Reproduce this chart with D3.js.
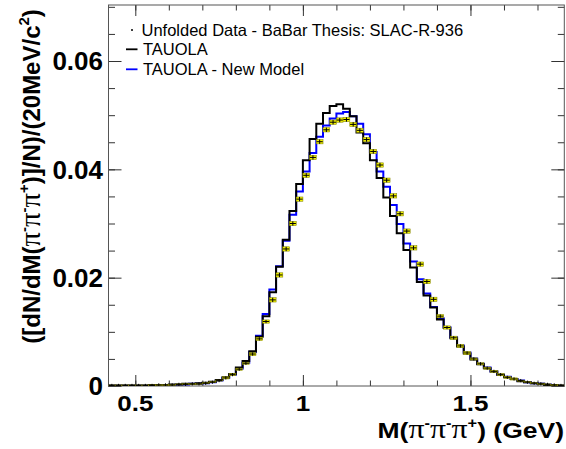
<!DOCTYPE html>
<html><head><meta charset="utf-8">
<script src="https://cdn.jsdelivr.net/npm/d3@7"></script>
<style>body{margin:0;background:#fff}svg{display:block}</style>
</head><body>
<svg id="c" width="566" height="449"></svg>
<script>
// ---- data ----
const massLow = [0.42,0.44,0.46,0.48,0.50,0.52,0.54,0.56,0.58,0.60,0.62,0.64,0.66,0.68,0.70,0.72,0.74,0.76,0.78,0.80,
  0.82,0.84,0.86,0.88,0.90,0.92,0.94,0.96,0.98,1.00,1.02,1.04,1.06,1.08,1.10,1.12,1.14,1.16,1.18,1.20,
  1.22,1.24,1.26,1.28,1.30,1.32,1.34,1.36,1.38,1.40,1.42,1.44,1.46,1.48,1.50,1.52,1.54,1.56,1.58,1.60,
  1.62,1.64,1.66,1.68,1.70,1.72,1.74,1.76];
const binWidth = 0.02;
const tauola = [0.0001,0.0001,0.0001,0.0001,0.0001,0.0001,0.0002,0.0002,0.0002,0.0003,0.0003,0.0004,0.0004,0.0005,0.0006,0.0008,0.0011,0.0016,0.0022,0.0034,
  0.0046,0.0064,0.0091,0.0129,0.0173,0.0220,0.0270,0.0323,0.0373,0.0417,0.0456,0.0484,0.0504,0.0517,0.0520,0.0512,0.0498,0.0468,0.0448,0.0417,
  0.0384,0.0348,0.0314,0.0282,0.0251,0.0219,0.0192,0.0167,0.0145,0.0123,0.0107,0.0088,0.0073,0.0060,0.0049,0.0040,0.0033,0.0027,0.0021,0.0016,
  0.0013,0.0009,0.0007,0.0005,0.0004,0.0002,0.0002,0.0001];
const newModel = [0.0001,0.0001,0.0001,0.0001,0.0001,0.0001,0.0001,0.0002,0.0002,0.0002,0.0003,0.0003,0.0004,0.0004,0.0005,0.0007,0.0010,0.0015,0.0021,0.0032,
  0.0043,0.0063,0.0093,0.0133,0.0178,0.0221,0.0268,0.0316,0.0359,0.0396,0.0430,0.0460,0.0481,0.0494,0.0503,0.0506,0.0498,0.0484,0.0465,0.0432,
  0.0396,0.0368,0.0334,0.0299,0.0263,0.0230,0.0197,0.0171,0.0146,0.0125,0.0109,0.0090,0.0075,0.0062,0.0051,0.0041,0.0034,0.0027,0.0021,0.0017,
  0.0013,0.0010,0.0007,0.0005,0.0004,0.0003,0.0002,0.0001];
const unfolded = [0.0001,0.0001,0.0001,0.0001,0.0001,0.0001,0.0001,0.0002,0.0002,0.0002,0.0003,0.0003,0.0004,0.0004,0.0005,0.0007,0.0010,0.0015,0.0021,0.0031,
  0.0042,0.0059,0.0087,0.0119,0.0159,0.0205,0.0253,0.0300,0.0345,0.0389,0.0422,0.0451,0.0473,0.0487,0.0491,0.0492,0.0483,0.0472,0.0455,0.0433,
  0.0408,0.0380,0.0351,0.0318,0.0286,0.0255,0.0225,0.0193,0.0160,0.0129,0.0108,0.0089,0.0074,0.0061,0.0050,0.0041,0.0033,0.0027,0.0021,0.0016,
  0.0013,0.0010,0.0007,0.0005,0.0004,0.0003,0.0002,0.0001];
const unfoldedErr = [0.0001,0.0001,0.0001,0.0001,0.0001,0.0001,0.0001,0.0001,0.0001,0.0001,0.0001,0.0001,0.0001,0.0001,0.0001,0.0001,0.0001,0.0002,0.0002,0.0002,
  0.0002,0.0003,0.0003,0.0003,0.0004,0.0004,0.0004,0.0004,0.0004,0.0004,0.0004,0.0004,0.0004,0.0004,0.0004,0.0004,0.0004,0.0004,0.0004,0.0004,
  0.0004,0.0004,0.0004,0.0004,0.0004,0.0004,0.0004,0.0004,0.0004,0.0003,0.0003,0.0003,0.0003,0.0003,0.0002,0.0002,0.0002,0.0002,0.0002,0.0002,
  0.0002,0.0001,0.0001,0.0001,0.0001,0.0001,0.0001,0.0001];
const xDomain = [0.42, 1.78];
const yDomain = [0, 0.07034];
const xMajorTicks = [0.5, 1.0, 1.5];
const xTickLabels = ["0.5", "1", "1.5"];
const xMinorTicks = [0.5,0.6,0.7,0.8,0.9,1.0,1.1,1.2,1.3,1.4,1.5,1.6,1.7];
const yMajorTicks = [0, 0.02, 0.04, 0.06];
const yTickLabels = ["0", "0.02", "0.04", "0.06"];
const yMinorTicks = [0,0.005,0.01,0.015,0.02,0.025,0.03,0.035,0.04,0.045,0.05,0.055,0.06,0.065,0.07];
const legendLabels = ["Unfolded Data - BaBar Thesis: SLAC-R-936", "TAUOLA", "TAUOLA - New Model"];

// ---- layout ----
const L = 108.5, R = 564.3, T = 5, B = 386;
const svg = d3.select("#c");
const x = d3.scaleLinear().domain(xDomain).range([L, R]);
const y = d3.scaleLinear().domain(yDomain).range([B, T]);

svg.append("clipPath").attr("id","clip").append("rect")
  .attr("x", L).attr("y", T).attr("width", R-L).attr("height", B-T);

// ---- axes / ticks ----
function styleAxis(g){
  g.select(".domain").remove();
  g.selectAll("text").remove();
  g.selectAll("line").attr("stroke","#333").attr("stroke-width",1);
}
svg.append("g").attr("transform",`translate(0,${B})`).call(d3.axisBottom(x).tickValues(xMinorTicks).tickSize(-5.5).tickFormat("")).call(styleAxis);
svg.append("g").attr("transform",`translate(0,${B})`).call(d3.axisBottom(x).tickValues(xMajorTicks).tickSize(-11).tickFormat("")).call(styleAxis);
svg.append("g").attr("transform",`translate(0,${T})`).call(d3.axisTop(x).tickValues(xMinorTicks).tickSize(-5.5).tickFormat("")).call(styleAxis);
svg.append("g").attr("transform",`translate(0,${T})`).call(d3.axisTop(x).tickValues(xMajorTicks).tickSize(-11).tickFormat("")).call(styleAxis);
svg.append("g").attr("transform",`translate(${L},0)`).call(d3.axisLeft(y).tickValues(yMinorTicks).tickSize(-6.5).tickFormat("")).call(styleAxis);
svg.append("g").attr("transform",`translate(${L},0)`).call(d3.axisLeft(y).tickValues(yMajorTicks).tickSize(-13).tickFormat("")).call(styleAxis);
svg.append("g").attr("transform",`translate(${R},0)`).call(d3.axisRight(y).tickValues(yMinorTicks).tickSize(-6.5).tickFormat("")).call(styleAxis);
svg.append("g").attr("transform",`translate(${R},0)`).call(d3.axisRight(y).tickValues(yMajorTicks).tickSize(-13).tickFormat("")).call(styleAxis);

svg.append("rect").attr("x",L).attr("y",T).attr("width",R-L).attr("height",B-T)
  .attr("fill","none").attr("stroke","#555").attr("stroke-width",1);

// tick labels
const FONT = "'Liberation Sans', Arial, Helvetica, sans-serif";
const SYM = "'Liberation Serif', 'DejaVu Serif', serif";
xMajorTicks.forEach((v,i)=>{
  svg.append("text").attr("transform",`translate(${x(v)},410.5) scale(1,0.84)`)
    .attr("text-anchor","middle").attr("font-family",FONT).attr("font-weight","bold")
    .attr("font-size",26).text(xTickLabels[i]);
});
yMajorTicks.forEach((v,i)=>{
  svg.append("text").attr("x",103).attr("y",y(v)+9.2)
    .attr("text-anchor","end").attr("font-family",FONT).attr("font-weight","bold")
    .attr("font-size",26).text(yTickLabels[i]);
});

function rich(textSel, parts, size){
  let off = 0;
  parts.forEach(p=>{
    const ts = textSel.append("tspan").text(p.t);
    const target = p.sup ? -size*0.42 : 0;
    ts.attr("dy", target - off); off = target;
    ts.attr("font-size", p.sup ? size*0.62 : (p.sym ? size*1.2 : size));
    if (p.sym) ts.attr("font-family",SYM).attr("font-weight","normal");
  });
}
const yt = svg.append("text").attr("transform","translate(39.5,176.5) rotate(-90)")
  .attr("text-anchor","middle").attr("font-family",FONT).attr("font-weight","bold").attr("font-size",24);
rich(yt, [{t:"([dN/dM("},{t:"π",sym:1},{t:"-",sup:1},{t:"π",sym:1},{t:"-",sup:1},{t:"π",sym:1},{t:"+",sup:1},
  {t:")]/N)/(20MeV/c"},{t:"2",sup:1},{t:")"}], 24);
const xt = svg.append("text").attr("transform","translate(564,437.5) scale(1,0.84)")
  .attr("text-anchor","end").attr("font-family",FONT).attr("font-weight","bold").attr("font-size",26.5);
rich(xt, [{t:"M("},{t:"π",sym:1},{t:"-",sup:1},{t:"π",sym:1},{t:"-",sup:1},{t:"π",sym:1},{t:"+",sup:1},{t:") (GeV)"}], 26.5);

// ---- histograms ----
const plot = svg.append("g").attr("clip-path","url(#clip)");
function stepPts(vals){
  const pts = massLow.map((m,i)=>[m, vals[i]]);
  pts.push([massLow[massLow.length-1]+binWidth, vals[vals.length-1]]);
  return pts;
}
const stepLine = d3.line().x(d=>x(d[0])).y(d=>y(d[1])).curve(d3.curveStepAfter);
plot.append("path").attr("d", stepLine(stepPts(newModel))).attr("fill","none")
  .attr("stroke","#0000ff").attr("stroke-width",2);
plot.append("path").attr("d", stepLine(stepPts(tauola))).attr("fill","none")
  .attr("stroke","#000").attr("stroke-width",2);

// ---- data points ----
const halfW = (x(binWidth) - x(0))/2;
const dg = plot.append("g");
massLow.forEach((m,i)=>{
  const c = m + binWidth/2, v = unfolded[i], e = unfoldedErr[i];
  const cx = x(c), cy = y(v);
  const top = y(v+e), bot = y(v-e);
  dg.append("rect").attr("x",cx-3.4).attr("y",top).attr("width",6.8).attr("height",Math.max(1,bot-top))
    .attr("fill","#f2f200").attr("stroke","#7a7a00").attr("stroke-width",0.5);
  dg.append("line").attr("x1",cx-halfW+0.3).attr("x2",cx+halfW-0.3).attr("y1",cy).attr("y2",cy)
    .attr("stroke","#000").attr("stroke-width",1);
  const ev = Math.max(1.6, (bot-top)/2);
  dg.append("line").attr("x1",cx).attr("x2",cx).attr("y1",cy-ev).attr("y2",cy+ev)
    .attr("stroke","#000").attr("stroke-width",1);
});

// ---- legend ----
const lg = svg.append("g").attr("font-family",FONT).attr("font-size",16.5);
lg.append("circle").attr("cx",132).attr("cy",30).attr("r",1).attr("fill","#000");
lg.append("text").attr("x",141.5).attr("y",36).text(legendLabels[0]);
lg.append("line").attr("x1",126).attr("x2",137.5).attr("y1",49.3).attr("y2",49.3).attr("stroke","#000").attr("stroke-width",1.8);
lg.append("text").attr("x",143).attr("y",55.3).text(legendLabels[1]);
lg.append("line").attr("x1",126).attr("x2",137.5).attr("y1",69.3).attr("y2",69.3).attr("stroke","#0000ff").attr("stroke-width",1.8);
lg.append("text").attr("x",143).attr("y",75.3).text(legendLabels[2]);
</script>
</body></html>
